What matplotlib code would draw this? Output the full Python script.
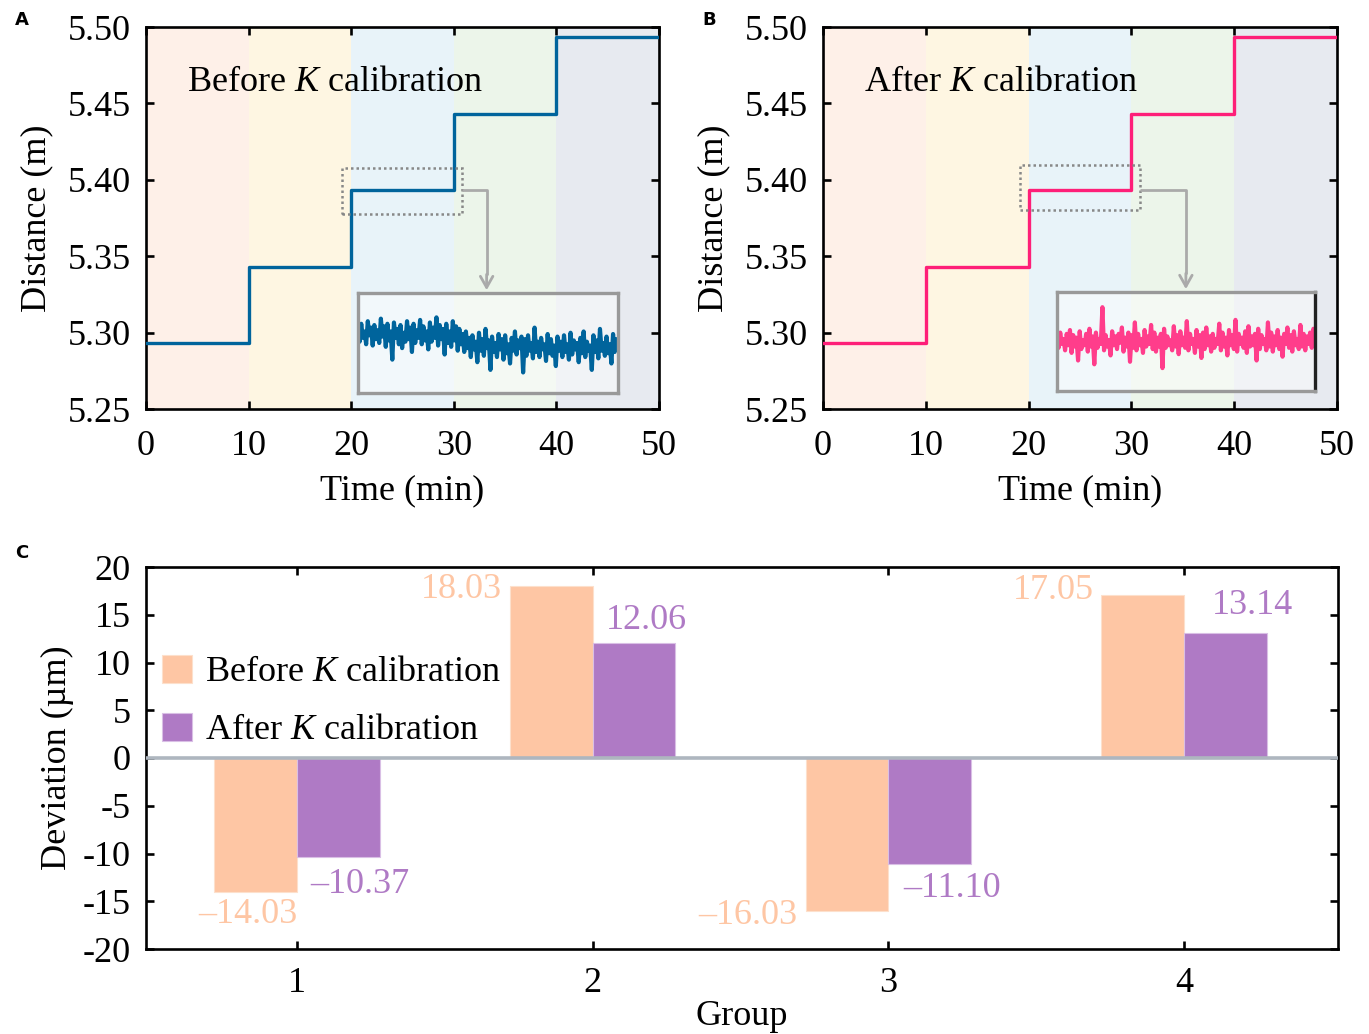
import numpy as np
import matplotlib
matplotlib.use("Agg")
import matplotlib.pyplot as plt
from matplotlib.patches import Rectangle, Patch

plt.rcParams['font.family'] = ['Liberation Serif', 'DejaVu Serif']
plt.rcParams['mathtext.fontset'] = 'custom'
plt.rcParams['mathtext.rm'] = 'Liberation Serif'
plt.rcParams['mathtext.it'] = 'Liberation Serif:italic'
plt.rcParams['axes.unicode_minus'] = False

# ---------------- data ----------------
step_times = [0, 10, 20, 30, 40, 50]
levels_before = [5.293, 5.343, 5.393, 5.443, 5.4935]
levels_after = [5.293, 5.343, 5.393, 5.443, 5.4935]
band_edges = [0, 10, 20, 30, 40, 50]
band_colors = ['#fef0e8', '#fef6e2', '#e8f3f9', '#ecf5ea', '#e7eaf0']

noise_before = [62,52,66,55,60,50,68,57,63,49,65,54,61,51,70,56,64,48,66,53,60,38,67,55,62,50,65,47,59,52,68,54,
                63,44,66,51,61,55,69,50,64,53,60,46,67,52,63,55,71,49,65,54,62,42,66,51,60,48,68,53,64,45,62,50,
                58,44,60,47,55,40,57,46,52,36,59,45,54,41,62,47,53,30,56,44,51,40,58,46,54,38,57,43,50,35,55,45,
                60,42,53,47,56,28,54,41,57,45,51,39,63,44,52,40,55,46,50,37,58,43,54,41,49,33,56,45,52,40,57,44,
                50,38,59,42,53,46,51,36,55,43,60,40,52,45,49,30,57,44,53,39,62,45,51,41,56,43,50,35,58,44,54,46]
noise_after = [55,46,58,49,53,44,57,48,60,42,56,47,54,36,59,45,52,48,57,43,61,47,55,33,58,46,53,49,78,44,56,47,
               52,40,59,48,55,45,57,50,62,43,54,47,58,35,56,46,66,44,57,48,53,42,60,47,55,49,64,45,58,43,54,47,
               57,30,61,46,55,48,52,44,63,47,56,41,59,48,54,46,67,44,57,49,53,42,60,47,56,38,58,45,62,48,55,43,
               57,46,53,49,65,44,58,47,54,40,60,48,56,45,68,43,57,49,54,46,59,42,63,47,55,48,57,36,61,45,56,49,
               53,44,66,47,58,43,55,48,60,45,54,39,57,49,62,46,56,43,59,48,53,45,64,47,57,44,55,49,58,46,61,50]

groups = [1, 2, 3, 4]
dev_before = [-14.03, 18.03, -16.03, 17.05]
dev_after = [-10.37, 12.06, -11.10, 13.14]

# ---------------- figure ----------------
W, H = 1369, 1034
fig = plt.figure(figsize=(W / 100, H / 100), dpi=100)

def px_axes(x0, y0, x1, y1):
    return fig.add_axes([x0 / W, 1 - y1 / H, (x1 - x0) / W, (y1 - y0) / H])

FS = 26
SPW = 1.9

def style_axes(ax, xpad=15):
    for s in ax.spines.values():
        s.set_linewidth(SPW)
    ax.tick_params(direction='in', length=6, width=SPW, top=True, right=True,
                   labelsize=FS)
    ax.tick_params(axis='x', pad=xpad)
    ax.tick_params(axis='y', pad=11)

def distance_panel(ax, levels, color, noise, noise_color, label, box, arrow_x, inset_rect, right_black):
    for i in range(5):
        ax.axvspan(band_edges[i], band_edges[i + 1], color=band_colors[i], lw=0, zorder=0)
    ax.step(step_times, levels + [levels[-1]], where='post', color=color, lw=2.4, zorder=3)
    ax.set_xlim(0, 50)
    ax.set_ylim(5.25, 5.50)
    ax.set_xticks([0, 10, 20, 30, 40, 50])
    ax.set_yticks([5.25, 5.30, 5.35, 5.40, 5.45, 5.50])
    ax.set_yticklabels(['5.25', '5.30', '5.35', '5.40', '5.45', '5.50'])
    style_axes(ax)
    ax.set_xlabel('Time (min)', fontsize=FS, labelpad=8)
    ax.set_ylabel('Distance (m)', fontsize=FS, labelpad=10)
    ax.text(4.0, 5.464, label, fontsize=FS, va='center', ha='left', zorder=5)
    # dotted zoom box
    bx0, by0, bx1, by1 = box
    ax.add_patch(Rectangle((bx0, by0), bx1 - bx0, by1 - by0, fill=False, ls=(0, (1, 1.2)),
                           lw=1.8, ec='#888888', zorder=4))
    ymid = levels[2]
    ix0, iy0, ix1, iy1 = inset_rect
    ax.plot([bx1, arrow_x, arrow_x], [ymid, ymid, iy1 + 0.012], color='#aaaaaa', lw=2, zorder=4,
            solid_capstyle='butt')
    ax.annotate('', xy=(arrow_x, iy1), xytext=(arrow_x, iy1 + 0.014),
                arrowprops=dict(arrowstyle='->,head_length=0.8,head_width=0.45', color='#aaaaaa', lw=2),
                zorder=4)
    ins = ax.inset_axes([ix0, iy0, ix1 - ix0, iy1 - iy0], transform=ax.transData, zorder=6)
    ins.set_facecolor((1, 1, 1, 0.45))
    ins.plot(np.arange(len(noise)), noise, color=noise_color, lw=3.0)
    ins.set_xlim(0, len(noise) - 1)
    ins.set_ylim(12, 90)
    ins.set_xticks([])
    ins.set_yticks([])
    for s in ins.spines.values():
        s.set_color('#999999')
        s.set_linewidth(2.4)
    if right_black:
        ins.spines['right'].set_color('#222222')

axA = px_axes(146, 27, 659, 409)
distance_panel(axA, levels_before, '#00649c', noise_before, '#00649c',
               'Before $K$ calibration', (19.1, 5.3776, 30.8, 5.4077), 33.2,
               (20.66, 5.2605, 46.0, 5.3259), False)
axB = px_axes(823, 27, 1337, 409)
distance_panel(axB, levels_after, '#fe1f78', noise_after, '#ff3d8b',
               'After $K$ calibration', (19.16, 5.380, 30.84, 5.410), 35.3,
               (22.76, 5.2618, 47.86, 5.3266), True)

# ---------------- panel C ----------------
axC = px_axes(146, 567, 1338, 949)
c_before = '#fec6a4'
c_after = '#af7ac5'
bw = 0.28
xb = [g - bw / 2 for g in groups]
xa = [g + bw / 2 for g in groups]
axC.bar(xb, dev_before, width=bw, color=c_before, edgecolor='#fde0cc', lw=0.8, zorder=2,
        label='Before $K$ calibration')
axC.bar(xa, dev_after, width=bw, color=c_after, edgecolor='#d9bfe5', lw=0.8, zorder=2,
        label='After $K$ calibration')
axC.axhline(0, color='#aeb6bf', lw=2.6, zorder=3)
axC.set_xlim(0.49, 4.52)
axC.set_ylim(-20, 20)
axC.set_xticks(groups)
axC.set_xticklabels([str(g) for g in groups])
axC.set_yticks(list(range(-20, 21, 5)))
axC.set_yticklabels([str(v) for v in range(-20, 21, 5)])
style_axes(axC, xpad=13)
axC.set_xlabel('Group', fontsize=FS, labelpad=0)
axC.set_ylabel('Deviation (µm)', fontsize=FS, labelpad=6)

def fmt(v):
    return f"{v:.2f}".replace('-', '–')

k = 0.72  # px -> points
before_offsets = [((-8, -23), 'center'), ((-49, -4), 'right'), ((-50, -4), 'right'), ((-49, 5), 'right')]
after_offsets = [((22, -27), 'center'), ((12, 22), 'center'), ((22, -24), 'center'), ((27, 27), 'center')]
for x, v, (off, ha) in zip(xb, dev_before, before_offsets):
    axC.annotate(fmt(v), xy=(x, v), xytext=(off[0] * k, off[1] * k), textcoords='offset points',
                 ha=ha, va='center', fontsize=FS, color=c_before)
for x, v, (off, ha) in zip(xa, dev_after, after_offsets):
    axC.annotate(fmt(v), xy=(x, v), xytext=(off[0] * k, off[1] * k), textcoords='offset points',
                 ha=ha, va='center', fontsize=FS, color=c_after)

axC.legend(loc='upper left', bbox_to_anchor=(-0.008, 0.837), frameon=False, fontsize=FS,
           handlelength=0.85, handleheight=0.85, handletextpad=0.35, labelspacing=0.64,
           borderaxespad=0.3)

# panel letters
for lbl, (x, y) in zip(['A', 'B', 'C'], [(22, 20), (709, 20), (22, 553)]):
    fig.text(x / W, 1 - y / H, lbl, fontsize=13, fontweight='bold', family='DejaVu Sans',
             ha='center', va='center')

fig.savefig('out.png', dpi=100)
